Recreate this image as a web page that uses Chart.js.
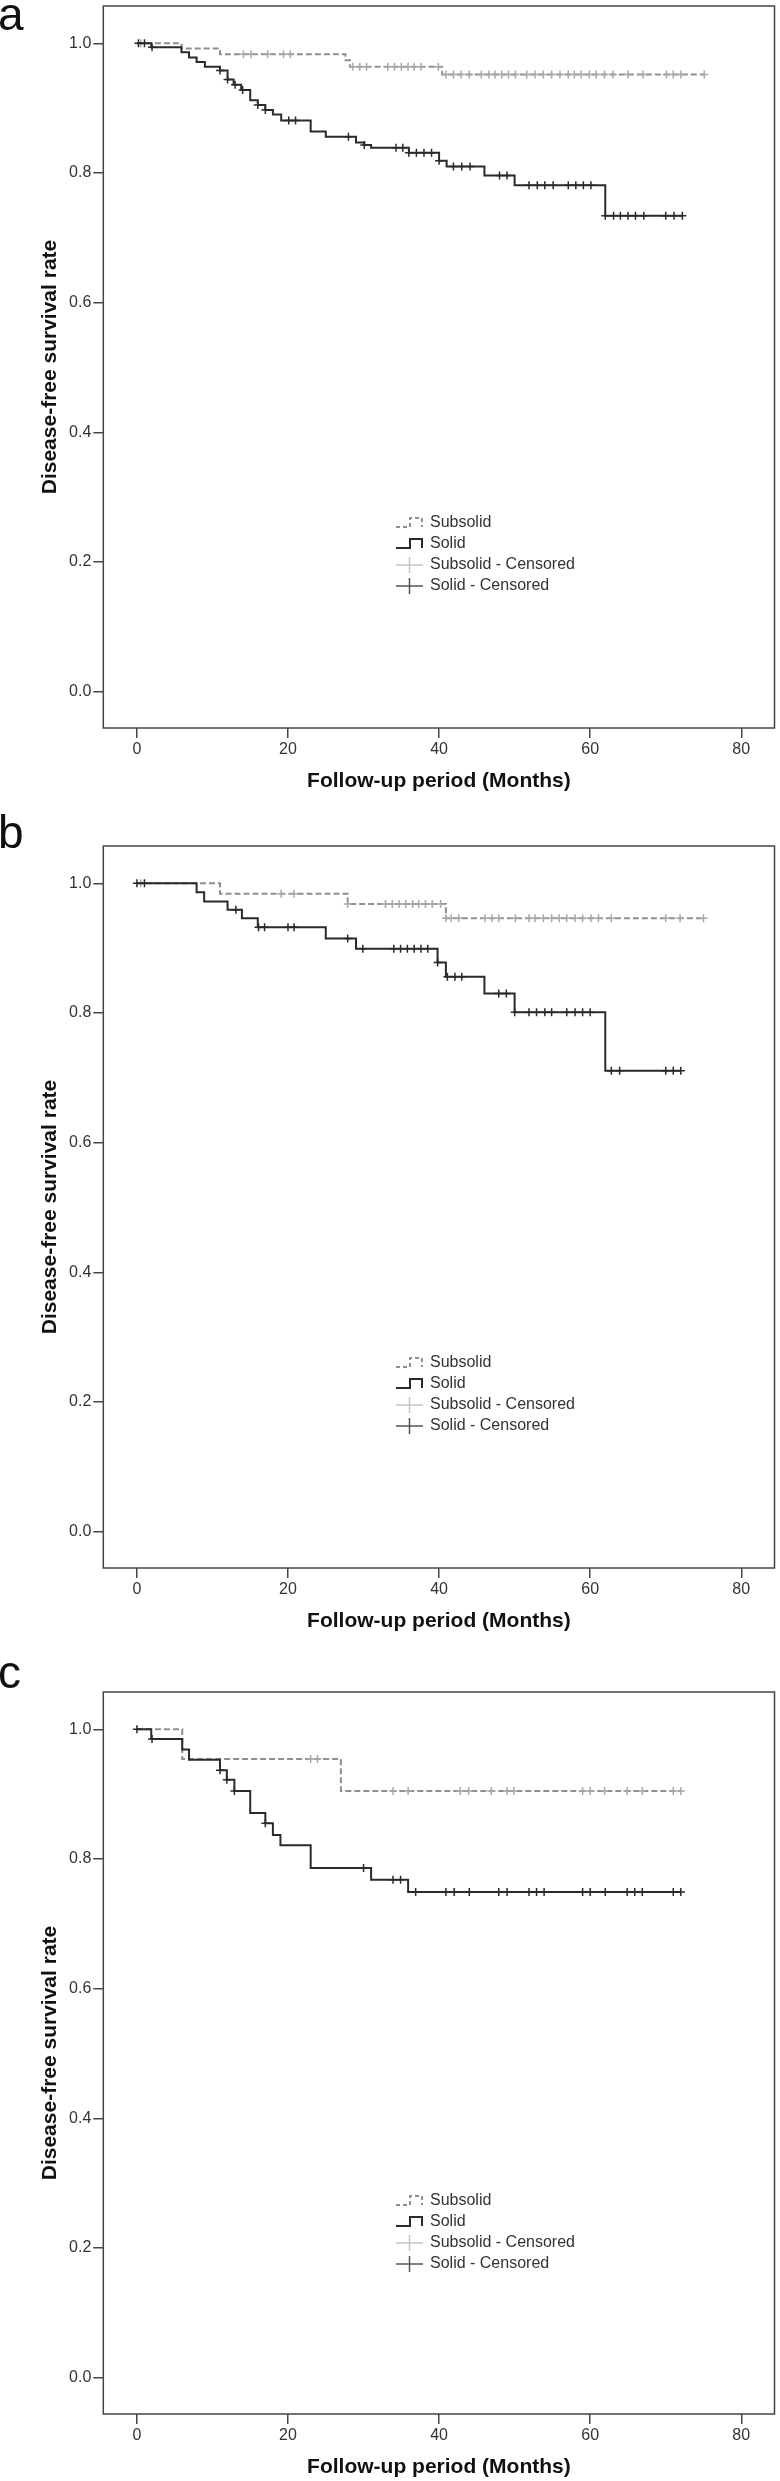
<!DOCTYPE html>
<html>
<head>
<meta charset="utf-8">
<script src="https://cdn.jsdelivr.net/npm/chart.js@4.4.0/dist/chart.umd.min.js"></script>
<style>
  html, body { margin: 0; padding: 0; background: #fff; }
  body { width: 780px; height: 2481px; overflow: hidden; position: relative; font-family: "Liberation Sans", Arial, sans-serif; }
  .panel { position: absolute; left: 0; width: 780px; height: 800px; }
  .tag { position: absolute; left: -2px; font-size: 46px; line-height: 46px; color: #111; }
</style>
</head>
<body>
<div class="panel" style="top:0px"><canvas id="chartA"></canvas></div>
<div class="panel" style="top:840px"><canvas id="chartB"></canvas></div>
<div class="panel" style="top:1686px"><canvas id="chartC"></canvas></div>
<div class="tag" style="top:-9px">a</div>
<div class="tag" style="top:809px">b</div>
<div class="tag" style="top:1649px">c</div>

<script>
// ---- axes ----
const X_TICKS = [0, 20, 40, 60, 80];
const Y_TICKS = [0.0, 0.2, 0.4, 0.6, 0.8, 1.0];
const X_MIN = -4.45, X_MAX = 84.4;
const Y_MIN = -0.056, Y_MAX = 1.0575;

const X_TITLE = "Follow-up period (Months)";
const Y_TITLE = "Disease-free survival rate";
const LEGEND_LABELS = ["Subsolid", "Solid", "Subsolid - Censored", "Solid - Censored"];

// ---- panel a ----
const A_SUB_T = [5.9, 11.0, 27.6, 28.2, 40.4];
const A_SUB_S = [0.992, 0.983, 0.974, 0.964, 0.952];
const A_SUB_C = [0.5, 14.1, 15.1, 17.3, 19.4, 20.3, 28.6, 29.5, 30.4, 33.2, 34.1, 35.0, 35.9, 36.7,
                 37.6, 39.9, 40.9, 41.9, 42.9, 44.0, 45.6, 46.6, 47.4, 48.3, 49.2, 50.1, 51.6, 52.7,
                 53.8, 54.9, 56.0, 57.1, 57.9, 58.8, 59.9, 60.8, 61.9, 63.0, 65.0, 67.0, 70.1, 71.0,
                 72.0, 75.1];
const A_SOL_T = [1.9, 5.9, 6.9, 7.9, 9.0, 11.0, 12.0, 12.8, 13.8, 15.0, 16.0, 17.0, 18.0, 19.1,
                 23.0, 25.0, 29.0, 30.1, 31.0, 36.0, 40.0, 41.0, 46.0, 50.0, 62.0];
const A_SOL_S = [0.994, 0.986, 0.978, 0.971, 0.964, 0.958, 0.944, 0.936, 0.928, 0.912, 0.905, 0.897,
                 0.890, 0.881, 0.864, 0.856, 0.847, 0.843, 0.839, 0.831, 0.819, 0.810, 0.796, 0.781, 0.734];
const A_SOL_C = [0.2, 1.0, 2.0, 11.0, 12.0, 13.0, 14.0, 16.0, 17.0, 20.1, 21.0, 28.0, 30.1, 34.3,
                 35.2, 36.0, 37.0, 38.0, 39.0, 40.0, 41.9, 43.0, 44.1, 48.0, 49.0, 51.9, 53.0, 54.0,
                 55.1, 57.1, 58.1, 59.1, 60.1, 62.0, 63.1, 64.0, 65.0, 66.0, 67.1, 70.0, 71.1, 72.2];

// ---- panel b ----
const B_SUB_T = [11.0, 27.9, 40.9];
const B_SUB_S = [0.984, 0.968, 0.946];
const B_SUB_C = [0.5, 19.1, 20.8, 27.9, 32.9, 33.8, 34.7, 35.6, 36.5, 37.3, 38.2, 39.1, 40.2, 40.9,
                 41.6, 42.6, 46.1, 47.0, 47.9, 50.1, 51.9, 52.7, 53.8, 54.9, 55.9, 56.9, 58.0, 59.0,
                 60.1, 61.1, 62.8, 70.0, 71.9, 75.0];
const B_SOL_T = [7.9, 8.9, 12.0, 13.9, 16.0, 25.0, 29.0, 39.8, 40.9, 46.0, 50.0, 62.0];
const B_SOL_S = [0.986, 0.972, 0.959, 0.946, 0.932, 0.915, 0.899, 0.878, 0.856, 0.830, 0.801, 0.711];
const B_SOL_C = [0.0, 1.0, 13.1, 16.1, 16.9, 20.0, 20.8, 27.9, 29.9, 34.0, 34.9, 35.8, 36.7, 37.6,
                 38.5, 39.8, 41.1, 42.1, 43.0, 47.9, 48.9, 50.0, 51.9, 52.9, 54.0, 54.9, 56.9, 58.0,
                 59.0, 60.0, 62.8, 63.9, 70.0, 71.0, 72.0];

// ---- panel c ----
const C_SUB_T = [6.0, 27.0];
const C_SUB_S = [0.954, 0.905];
const C_SUB_C = [23.0, 23.9, 33.9, 35.9, 42.8, 43.9, 46.9, 49.0, 49.9, 59.0, 60.0, 61.9, 64.9, 66.9,
                 71.0, 72.0];
const C_SOL_T = [1.9, 6.0, 6.9, 11.0, 11.9, 12.9, 15.0, 17.0, 18.0, 19.0, 23.0, 31.0, 35.9];
const C_SOL_S = [0.985, 0.969, 0.953, 0.937, 0.922, 0.905, 0.871, 0.855, 0.837, 0.821, 0.786, 0.768, 0.749];
const C_SOL_C = [0.0, 2.0, 11.0, 11.9, 12.9, 17.0, 30.0, 33.9, 34.9, 36.9, 40.9, 42.0, 44.0, 47.9,
                 49.0, 51.9, 52.9, 53.9, 59.0, 60.0, 62.0, 64.9, 65.9, 66.9, 71.0, 72.0];

// ---- styles ----
const AXIS_COLOR  = "#444";
const TEXT_COLOR  = "#333";
const SOLID_COLOR = "#2a2a2a";
const SUB_COLOR   = "#8f8f8f";
const SUB_CENS    = "#a8a8a8";
const FONT        = '"Liberation Sans", Arial, sans-serif';
const TICK_FONT   = { family: FONT, size: 16 };
const TITLE_FONT  = { family: FONT, size: 21, weight: "bold" };
const LEGEND_Y    = [523, 544, 565, 586];
const LEGEND_X    = 396;

function survivalAt(times, surv, t) {
  let s = 1;
  times.forEach((ti, i) => { if (ti <= t) s = surv[i]; });
  return s;
}

function stepPoints(times, surv, cens) {
  const end = Math.max(times[times.length - 1], cens[cens.length - 1]);
  const pts = [{ x: 0, y: 1 }];
  times.forEach((t, i) => pts.push({ x: t, y: surv[i] }));
  pts.push({ x: end, y: surv[surv.length - 1] });
  return pts;
}

function censorPoints(times, surv, cens) {
  return cens.map(t => ({ x: t, y: survivalAt(times, surv, t) }));
}

function framePlugin(legendShift) {
  return {
    id: "kmFrame",
    afterDraw(chart) {
      const { ctx, chartArea: a } = chart;
      ctx.save();
      ctx.strokeStyle = AXIS_COLOR;
      ctx.lineWidth = 1.5;
      ctx.strokeRect(a.left, a.top, a.right - a.left, a.bottom - a.top);

      // legend inside the plot, SPSS style
      ctx.font = `16px ${FONT}`;
      ctx.textBaseline = "middle";
      ctx.fillStyle = TEXT_COLOR;
      LEGEND_LABELS.forEach((lab, i) => {
        const y = LEGEND_Y[i] + legendShift;
        ctx.beginPath();
        if (i < 2) {
          ctx.strokeStyle = i === 0 ? SUB_COLOR : SOLID_COLOR;
          ctx.lineWidth = 2;
          ctx.setLineDash(i === 0 ? [4, 3] : []);
          ctx.moveTo(LEGEND_X, y + 4);
          ctx.lineTo(LEGEND_X + 14, y + 4);
          ctx.lineTo(LEGEND_X + 14, y - 5);
          ctx.lineTo(LEGEND_X + 26, y - 5);
          ctx.lineTo(LEGEND_X + 26, y + 4);
        } else {
          ctx.strokeStyle = i === 2 ? "#c4c4c4" : "#555";
          ctx.lineWidth = 1.5;
          ctx.setLineDash([]);
          ctx.moveTo(LEGEND_X, y);
          ctx.lineTo(LEGEND_X + 27, y);
          ctx.moveTo(LEGEND_X + 13.5, y - 8);
          ctx.lineTo(LEGEND_X + 13.5, y + 8);
        }
        ctx.stroke();
        ctx.setLineDash([]);
        ctx.fillText(lab, LEGEND_X + 34, y);
      });
      ctx.restore();
    },
  };
}

function makeChart(id, legendShift, subT, subS, subC, solT, solS, solC) {
  const ctx = document.getElementById(id).getContext("2d");
  return new Chart(ctx, {
    type: "line",
    data: {
      datasets: [
        {
          label: "Subsolid", data: stepPoints(subT, subS, subC),
          stepped: "before", borderColor: SUB_COLOR, borderWidth: 2, borderDash: [6, 3],
          pointRadius: 0, fill: false, order: 4,
        },
        {
          label: "Subsolid - Censored", type: "scatter", data: censorPoints(subT, subS, subC),
          showLine: false, pointStyle: "cross", pointRadius: 4, borderColor: SUB_CENS,
          borderWidth: 1.5, order: 3,
        },
        {
          label: "Solid", data: stepPoints(solT, solS, solC),
          stepped: "before", borderColor: SOLID_COLOR, borderWidth: 2,
          pointRadius: 0, fill: false, order: 2,
        },
        {
          label: "Solid - Censored", type: "scatter", data: censorPoints(solT, solS, solC),
          showLine: false, pointStyle: "cross", pointRadius: 4, borderColor: SOLID_COLOR,
          borderWidth: 1.5, order: 1,
        },
      ],
    },
    options: {
      responsive: true,
      maintainAspectRatio: false,
      animation: false,
      layout: { padding: { left: 0, right: 3, top: 6, bottom: 0 } },
      plugins: { legend: { display: false }, tooltip: { enabled: false } },
      scales: {
        x: {
          type: "linear", min: X_MIN, max: X_MAX,
          afterBuildTicks: s => { s.ticks = X_TICKS.map(v => ({ value: v })); },
          afterFit: s => { s.height = 72; s.paddingLeft = 0; s.paddingRight = 0; },
          border: { display: false },
          grid: { drawOnChartArea: false, drawTicks: true, tickLength: 10, color: AXIS_COLOR, lineWidth: 1.5 },
          ticks: { color: TEXT_COLOR, font: TICK_FONT, padding: 2, maxRotation: 0, callback: v => String(v) },
          title: { display: true, text: X_TITLE, color: "#111", font: TITLE_FONT, padding: { top: 0, bottom: 6 } },
        },
        y: {
          type: "linear", min: Y_MIN, max: Y_MAX,
          afterBuildTicks: s => { s.ticks = Y_TICKS.map(v => ({ value: v })); },
          afterFit: s => { s.width = 103.3; s.paddingTop = 0; s.paddingBottom = 0; },
          border: { display: false },
          grid: { drawOnChartArea: false, drawTicks: true, tickLength: 10, color: AXIS_COLOR, lineWidth: 1.5 },
          ticks: { color: TEXT_COLOR, font: TICK_FONT, padding: 2, callback: v => v.toFixed(1) },
          title: { display: true, text: Y_TITLE, color: "#111", font: TITLE_FONT, padding: { top: 38, bottom: 0 } },
        },
      },
    },
    plugins: [framePlugin(legendShift)],
  });
}

window.addEventListener("DOMContentLoaded", () => {
  makeChart("chartA", 0,  A_SUB_T, A_SUB_S, A_SUB_C, A_SOL_T, A_SOL_S, A_SOL_C);
  makeChart("chartB", 0,  B_SUB_T, B_SUB_S, B_SUB_C, B_SOL_T, B_SOL_S, B_SOL_C);
  makeChart("chartC", -8, C_SUB_T, C_SUB_S, C_SUB_C, C_SOL_T, C_SOL_S, C_SOL_C);
});
</script>
</body>
</html>
